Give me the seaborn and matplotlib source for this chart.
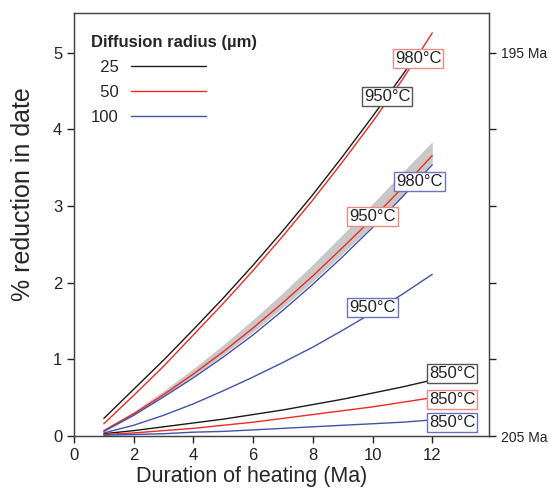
import numpy as np
import pandas as pd
import seaborn as sns
import matplotlib.pyplot as plt

# duration of heating (Ma)
dur = [1, 2, 3, 4, 5, 6, 7, 8, 9, 10, 11, 12]
dur_short = [1, 2, 3, 4, 5, 6, 7, 8, 9, 10, 11, 11.2]

# % reduction in date, by diffusion radius / temperature
r25_950 = [0.23, 0.61, 0.99, 1.39, 1.80, 2.23, 2.68, 3.15, 3.65, 4.17, 4.71, 4.82]
r25_850 = [0.03, 0.07, 0.12, 0.17, 0.22, 0.28, 0.34, 0.41, 0.48, 0.56, 0.64, 0.73]
r50_980 = [0.16, 0.53, 0.91, 1.32, 1.73, 2.16, 2.61, 3.08, 3.58, 4.10, 4.65, 5.26]
r50_950 = [0.07, 0.29, 0.54, 0.81, 1.10, 1.41, 1.74, 2.09, 2.46, 2.84, 3.24, 3.66]
r50_950_lo = [0.06, 0.27, 0.52, 0.78, 1.06, 1.36, 1.68, 2.02, 2.38, 2.75, 3.14, 3.57]
r50_950_hi = [0.09, 0.32, 0.59, 0.88, 1.19, 1.52, 1.87, 2.24, 2.63, 3.03, 3.44, 3.84]
r50_850 = [0.02, 0.04, 0.07, 0.10, 0.14, 0.18, 0.23, 0.28, 0.33, 0.38, 0.44, 0.50]
r100_980 = [0.06, 0.27, 0.51, 0.76, 1.03, 1.32, 1.64, 1.98, 2.34, 2.72, 3.12, 3.54]
r100_950 = [0.04, 0.14, 0.27, 0.42, 0.59, 0.77, 0.96, 1.16, 1.38, 1.61, 1.85, 2.11]
r100_850 = [0.01, 0.02, 0.03, 0.05, 0.06, 0.08, 0.10, 0.12, 0.14, 0.16, 0.18, 0.21]

colors = {'25': '#1a1a1a', '50': '#ee2a24', '100': '#4352a8'}
box_edges = {'25': '#555555', '50': '#f08a80', '100': '#6d72c0'}

# curve labels: (text, radius, x, y)
curve_labels = [
    ('980°C', '50', 11.53, 4.92),
    ('950°C', '25', 10.49, 4.43),
    ('980°C', '100', 11.57, 3.32),
    ('950°C', '50', 9.99, 2.86),
    ('950°C', '100', 9.99, 1.68),
    ('850°C', '25', 12.67, 0.81),
    ('850°C', '50', 12.67, 0.48),
    ('850°C', '100', 12.67, 0.18),
]

sns.set_style('ticks')
plt.rcParams['font.family'] = ['Liberation Sans', 'DejaVu Sans']

fig = plt.figure(figsize=(5.49, 4.90), dpi=100)
ax = fig.add_axes([0.1348, 0.1102, 0.7559, 0.8633])

ax.fill_between(dur, r50_950_lo, r50_950_hi, color='#c8c8c8', lw=0, zorder=1)

lines = [
    (dur_short, r25_950, '25', '25'),
    (dur, r25_850, '25', None),
    (dur, r50_980, '50', '50'),
    (dur, r50_950, '50', None),
    (dur, r50_850, '50', None),
    (dur, r100_980, '100', '100'),
    (dur, r100_950, '100', None),
    (dur, r100_850, '100', None),
]
for xs, ys, r, lab in lines:
    sns.lineplot(x=xs, y=ys, color=colors[r], lw=1.0, ax=ax, label=lab, zorder=2)

for txt, r, x, y in curve_labels:
    ax.text(x, y, txt, ha='center', va='center', fontsize=12, color='#222222', zorder=5,
            bbox=dict(boxstyle='square,pad=0.12', fc='white', ec=box_edges[r], lw=1))

ax.set_xlim(0, 13.9)
ax.set_ylim(0, 5.52)
ax.set_xticks([0, 2, 4, 6, 8, 10, 12])
ax.set_yticks([0, 1, 2, 3, 4, 5])
ax.tick_params(direction='out', length=5, width=1, labelsize=12, colors='#222222')
ax.set_xlabel('Duration of heating (Ma)', fontsize=15.5)
ax.set_ylabel('% reduction in date', fontsize=18)
ax.xaxis.set_label_coords(0.429, -0.07)
ax.yaxis.set_label_coords(-0.095, 0.572)
for s in ax.spines.values():
    s.set_color('#444444')
    s.set_linewidth(1)

ax2 = ax.twinx()
ax2.set_ylim(ax.get_ylim())
ax2.set_yticks([0, 1, 2, 3, 4, 5])
ax2.set_yticklabels(['205 Ma', '', '', '', '', '195 Ma'])
ax2.tick_params(direction='out', length=5, width=1, labelsize=10, colors='#222222')
for s in ax2.spines.values():
    s.set_color('#444444')

# legend: labels right-aligned before the line samples
handles, labels = ax.get_legend_handles_labels()
labels = ['\u2007' + l if len(l) == 2 else l for l in labels]
leg = ax.legend(handles, labels, title='Diffusion radius (µm)', loc='upper left',
                bbox_to_anchor=(0.005, 0.983), frameon=False, markerfirst=False,
                handlelength=4.5, handletextpad=0.7, labelspacing=0.6, fontsize=12,
                alignment='left')
leg.get_title().set_fontweight('bold')
leg.get_title().set_fontsize(12)

fig.savefig('out.png', dpi=100)
